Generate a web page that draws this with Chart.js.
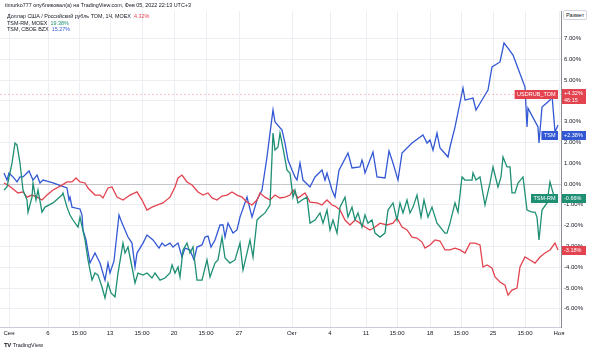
<!DOCTYPE html>
<html>
<head>
<meta charset="utf-8">
<script src="https://cdn.jsdelivr.net/npm/chart.js@4"></script>
<style>
  html, body { margin: 0; padding: 0; background: #fff; }
  #wrap { position: relative; width: 590px; height: 352px; font-family: "Liberation Sans", Arial, sans-serif; color: #131722; }
  canvas { position: absolute; left: 0; top: 0; }
  .txt { position: absolute; font-size: 5.4px; white-space: nowrap; line-height: 7px; }
  .btn { position: absolute; left: 563px; top: 10px; font-size: 5.5px; border: 1px solid #d1d4dc; border-radius: 2px; padding: 1px 2px; background: #fff; color: #131722; }
  .logo { position: absolute; left: 4px; top: 342px; font-size: 5.5px; color: #131722; }
  .logo b { font-size: 6px; letter-spacing: -0.5px; margin-right: 2px; }
</style>
</head>
<body>
<div id="wrap">
  <canvas id="myChart" width="590" height="352"></canvas>
  <div class="txt" style="left:5px;top:2px;">timurko777 опубликовал(а) на TradingView.com, Фев 05, 2022 22:13 UTC+3</div>
  <div class="txt" style="left:7px;top:13px;">Доллар США / Российский рубль TOM, 1Ч, MOEX&nbsp; <span style="color:#e3434f">4.32%</span></div>
  <div class="txt" style="left:7px;top:20px;">TSM-RM, MOEX&nbsp; <span style="color:#1f8f74">19.38%</span></div>
  <div class="txt" style="left:7px;top:26px;">TSM, CBOE BZX&nbsp; <span style="color:#3358d4">15.27%</span></div>
  <div class="btn">Размет</div>
  <div class="logo"><b>TV</b>TradingView</div>
</div>
<script>
// bars (hourly index) and % change
const blueBars = [4,7,9,13,17,20,23,29,33,37,40,43,47,53,62,67,69,70,72,75,80,82,83,86,90,95,97,100,105,108,110,114,119,122,128,132,135,137,143,147,153,159,162,165,170,173,178,182,185,190,194,197,202,205,208,211,215,220,223,225,228,233,237,240,247,252,257,262,267,270,273,275,282,285,288,292,295,297,300,303,310,315,322,325,327,332,335,339,348,352,360,362,363,365,373,377,385,389,393,398,402,412,423,427,430,433,437,440,448,450,455,463,465,473,476,482,488,492,500,504,508,513,516,525,527,528,538,539,542,550,552,555,558];
const bluePct = [0.53,0.19,0.53,0.34,0.10,0.34,0.34,0.63,0.19,0.43,0.05,0.19,0.14,0.05,-0.10,-0.19,-0.77,-0.63,-1.11,-1.15,-1.20,-1.49,-2.21,-2.69,-3.80,-3.32,-3.51,-3.80,-4.62,-3.80,-4.28,-3.70,-1.49,-1.88,-2.55,-2.84,-3.99,-3.32,-2.84,-2.45,-2.69,-3.08,-2.84,-2.98,-2.84,-3.03,-2.84,-3.51,-3.08,-3.17,-3.65,-3.03,-2.93,-2.55,-2.50,-3.03,-2.69,-1.97,-1.97,-2.55,-1.88,-2.36,-2.21,-1.59,-0.63,-1.59,-0.77,-0.29,1.30,2.45,3.56,2.98,2.60,1.97,1.15,0.67,0.34,0.19,1.01,0.19,-0.14,0.34,0.67,0.19,0.53,-0.29,-0.63,0.67,1.49,0.77,0.82,1.15,1.01,0.53,1.54,0.34,0.29,1.59,1.01,0.19,1.49,1.97,2.36,1.97,2.12,1.63,2.45,1.73,1.30,1.78,2.74,4.62,4.04,4.13,3.56,4.04,4.52,5.63,5.87,6.78,6.54,6.20,5.82,4.66,2.74,3.65,2.74,1.97,3.70,4.04,4.28,2.50,2.84];

const greenBars = [4,7,12,15,17,20,23,27,28,32,33,36,38,42,45,53,62,63,67,70,73,78,80,85,88,92,95,98,102,105,108,111,115,118,123,125,128,132,135,138,143,147,152,155,160,165,170,172,175,178,180,183,187,190,193,197,202,207,210,215,218,222,225,230,235,240,243,247,250,253,257,260,265,270,273,275,278,280,283,287,290,293,295,298,302,307,310,315,320,323,327,330,333,337,340,345,348,352,355,358,362,365,368,372,375,380,385,388,393,397,400,403,407,410,413,417,421,424,428,432,437,445,447,450,455,458,462,465,472,473,476,480,485,490,493,498,501,503,507,510,512,515,518,523,527,532,535,537,539,542,547,550,555,558];
const greenPct = [-0.29,-0.14,1.01,1.97,1.88,1.01,-0.29,-0.77,-1.35,-0.63,0.05,-0.77,-0.29,-1.35,-1.11,-0.91,-0.53,-0.43,-1.11,-1.49,-1.73,-2.07,-1.59,-2.69,-3.65,-4.62,-4.28,-4.38,-4.95,-5.48,-4.76,-5.24,-5.43,-4.28,-2.84,-3.32,-3.03,-3.99,-4.76,-4.28,-4.38,-4.28,-4.52,-4.28,-4.62,-4.52,-4.28,-3.89,-4.28,-3.99,-4.47,-3.17,-2.84,-3.32,-3.03,-4.62,-4.62,-3.65,-4.47,-3.80,-3.65,-2.55,-3.56,-3.80,-3.65,-2.84,-4.13,-3.32,-2.69,-3.51,-1.73,-1.59,-1.39,-1.01,2.45,1.63,1.78,2.45,1.73,0.67,0.53,-0.63,-0.29,-0.91,-0.77,-0.63,-1.88,-1.73,-1.39,-1.88,-1.25,-2.21,-1.73,-2.36,-1.11,-0.63,-1.59,-1.11,-1.73,-1.39,-2.07,-1.49,-1.88,-1.73,-2.36,-2.55,-2.36,-1.25,-0.91,-1.73,-0.91,-1.39,-0.77,-1.39,-1.11,-0.53,-1.59,-0.77,-1.59,-1.11,-1.88,-2.36,-2.36,-1.88,-0.91,-1.35,0.34,0.19,0.19,0.53,0.19,0.34,-1.01,0.05,0.82,-0.14,0.34,1.30,0.82,0.82,-0.43,-0.43,0.05,0.34,-1.25,-1.35,-1.35,-1.59,-2.69,-1.25,-0.91,0.10,-0.77,-0.63];

const redBars = [4,8,13,18,23,27,32,37,42,47,53,62,67,72,76,80,85,88,95,100,103,108,112,117,123,130,137,142,147,152,157,163,170,175,178,182,187,192,198,203,208,212,217,222,227,232,237,242,247,252,257,260,265,270,275,280,285,290,293,298,305,310,317,322,327,332,335,340,345,350,355,360,365,370,375,380,387,393,397,402,407,412,417,422,425,430,435,440,445,450,455,460,465,470,475,480,483,487,492,495,500,505,508,512,517,520,525,530,535,540,545,550,555,558];
const redPct = [0.05,-0.05,-0.24,-0.43,-0.38,-0.63,-0.53,-0.63,-0.77,-0.53,-0.29,-0.05,0.10,0.10,0.29,0.10,0.05,-0.19,-0.53,-0.53,-0.67,-0.19,-0.14,-0.63,-0.77,-0.53,-0.38,-0.77,-1.25,-1.11,-1.01,-0.91,-0.63,-0.14,0.29,0.43,0.10,-0.05,-0.38,-0.53,-0.43,-0.67,-0.77,-0.58,-0.53,-0.38,-0.53,-0.63,-0.87,-1.01,-0.77,-0.43,-0.63,-0.77,-0.53,-0.67,-0.63,-0.53,-0.29,-0.67,-0.43,-0.87,-0.91,-1.01,-0.77,-1.01,-1.06,-1.25,-1.73,-1.97,-1.73,-1.88,-2.07,-2.21,-2.07,-1.88,-1.97,-1.88,-1.63,-2.07,-2.21,-2.55,-2.60,-2.79,-3.08,-2.93,-2.69,-2.74,-3.17,-3.17,-3.08,-3.17,-3.32,-2.84,-2.84,-2.93,-3.99,-3.89,-4.04,-4.47,-4.71,-4.86,-5.34,-5.10,-5.00,-3.99,-3.51,-3.65,-3.80,-3.51,-3.32,-3.17,-2.84,-3.17];

// x axis labels and the bar they sit on
const tickBars   = [9, 48, 79, 110, 142, 174, 206, 239, 292, 330, 366, 397, 430, 461, 493, 525, 559];
const tickLabels = ['Сен', '6', '15:00', '13', '15:00', '20', '15:00', '27', 'Окт', '4', '11', '15:00', '18', '15:00', '25', '15:00', 'Ноя'];

// labels on the price scale
const axisTags   = ['USDRUB_TOM', 'TSM', 'TSM-RM', ''];
const axisValues = [4.32, 2.38, -0.66, -3.18];
const axisColors = ['#e3434f', '#3358d4', '#1f8f74', '#e3434f'];

const blue = '#3358d4', green = '#1f8f74', red = '#e3434f';

function pts(bars, vals) {
    const out = [];
    for (let i = 0; i < Math.min(bars.length, vals.length); i++) out.push({x: bars[i], y: vals[i]});
    return out;
}

const tagPlugin = {
    id: 'tags',
    afterDatasetsDraw(chart) {
        const ctx = chart.ctx;
        const y = chart.scales.y;
        const area = chart.chartArea;
        ctx.save();
        // dotted price line of the main symbol
        const py0 = y.getPixelForValue(axisValues[0]);
        ctx.strokeStyle = 'rgba(227,67,79,0.3)';
        ctx.setLineDash([2, 2]);
        ctx.lineWidth = 1;
        ctx.beginPath();
        ctx.moveTo(area.left, Math.round(py0) + 0.5);
        ctx.lineTo(area.right, Math.round(py0) + 0.5);
        ctx.stroke();
        ctx.setLineDash([]);
        ctx.font = '5.5px "Liberation Sans", Arial, sans-serif';
        ctx.textBaseline = 'middle';
        for (let i = 0; i < axisValues.length; i++) {
            const py = Math.round(y.getPixelForValue(axisValues[i]));
            const v = axisValues[i];
            const txt = (v > 0 ? '+' : '') + v.toFixed(2) + '%';
            ctx.fillStyle = axisColors[i];
            if (i === 0) {
                ctx.fillRect(area.right + 1, py - 5, 24, 15);
                ctx.fillStyle = '#fff';
                ctx.textAlign = 'left';
                ctx.fillText(txt, area.right + 3, py - 1);
                ctx.fillText('46:15', area.right + 3, py + 6);
            } else {
                ctx.fillRect(area.right + 1, py - 4, 24, 9);
                ctx.fillStyle = '#fff';
                ctx.textAlign = 'left';
                ctx.fillText(txt, area.right + 3, py + 0.5);
            }
            if (axisTags[i]) {
                const w = ctx.measureText(axisTags[i]).width + 5;
                ctx.fillStyle = axisColors[i];
                ctx.fillRect(area.right - 3 - w, py - 4, w, 9);
                ctx.fillStyle = '#fff';
                ctx.textAlign = 'right';
                ctx.fillText(axisTags[i], area.right - 5.5, py + 0.5);
            }
        }
        ctx.restore();
    }
};

const ctx = document.getElementById('myChart').getContext('2d');
const myChart = new Chart(ctx, {
    type: 'line',
    data: {
        datasets: [
            { label: 'TSM-RM', data: pts(greenBars, greenPct), borderColor: green, borderWidth: 1.3 },
            { label: 'USDRUB_TOM', data: pts(redBars, redPct), borderColor: red, borderWidth: 1.3 },
            { label: 'TSM', data: pts(blueBars, bluePct), borderColor: blue, borderWidth: 1.3 }
        ]
    },
    options: {
        responsive: false,
        animation: false,
        events: [],
        elements: { point: { radius: 0 }, line: { tension: 0 } },
        layout: { padding: { top: 11, left: 0, right: 0, bottom: 0 } },
        plugins: { legend: { display: false }, tooltip: { enabled: false } },
        scales: {
            x: {
                type: 'linear',
                min: 0,
                max: 561,
                afterBuildTicks: (s) => { s.ticks = tickBars.map(v => ({value: v})); },
                afterFit: (s) => { s.height = 25; },
                ticks: {
                    autoSkip: false,
                    maxRotation: 0,
                    padding: 3,
                    color: '#131722',
                    font: { size: 6, family: '"Liberation Sans", Arial, sans-serif' },
                    callback: (v) => { const i = tickBars.indexOf(v); return i >= 0 ? tickLabels[i] : ''; }
                },
                grid: { color: '#eceef3', drawTicks: false },
                border: { color: '#c9ccd4' }
            },
            y: {
                position: 'right',
                min: -6.875,
                max: 8.32,
                afterBuildTicks: (s) => {
                    const t = [];
                    for (let v = -6; v <= 7; v++) t.push({value: v});
                    s.ticks = t;
                },
                afterFit: (s) => { s.width = 29; },
                ticks: {
                    padding: 3,
                    color: '#131722',
                    font: { size: 6, family: '"Liberation Sans", Arial, sans-serif' },
                    callback: (v) => v.toFixed(2) + '%'
                },
                grid: {
                    drawTicks: false,
                    color: (c) => c.tick && c.tick.value === 0 ? '#c4c6cc' : '#eceef3'
                },
                border: { color: '#8a8d96' }
            }
        }
    },
    plugins: [tagPlugin]
});
</script>
</body>
</html>
